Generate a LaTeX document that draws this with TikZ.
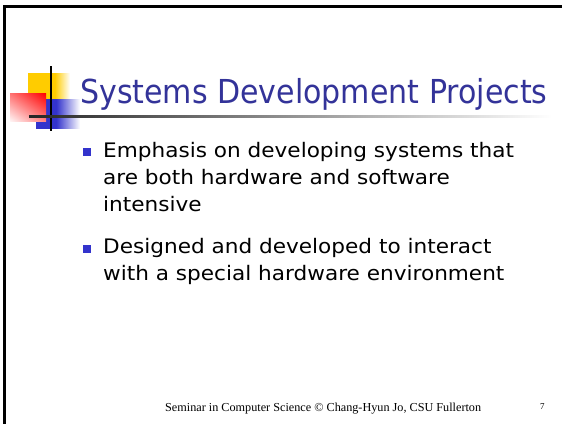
\documentclass[tikz,border=0pt]{standalone}
\usepackage{fontspec}
\usetikzlibrary{shadings}
\setmainfont{Liberation Serif}
\newfontfamily\slidetitle[FakeStretch=0.91]{DejaVu Sans}
\newfontfamily\slidebody[FakeStretch=1.08]{DejaVu Sans}
\definecolor{titleblue}{RGB}{51,51,153}
\definecolor{bulletblue}{RGB}{51,51,204}
\definecolor{decoyellow}{RGB}{255,204,0}
\definecolor{decored}{RGB}{255,0,0}
% Horizontal fades; the path box maps onto 25bp..75bp of the shading
\pgfdeclarehorizontalshading{yellowfade}{100bp}{color(0bp)=(decoyellow); color(57bp)=(decoyellow); color(75bp)=(white); color(100bp)=(white)}
\pgfdeclarehorizontalshading{bluefade}{100bp}{color(0bp)=(bulletblue); color(48bp)=(bulletblue); color(75bp)=(white); color(100bp)=(white)}
\pgfdeclarehorizontalshading{rulefade}{100bp}{color(0bp)=(black!85); color(25bp)=(black!85); color(75bp)=(white); color(100bp)=(white)}
\tikzset{
  titletext/.style={anchor=base west, inner sep=0pt, text=titleblue, font=\slidetitle\fontsize{33}{40}\selectfont},
  bodytext/.style={anchor=base west, inner sep=0pt, text=black, font=\slidebody\fontsize{20}{26}\selectfont},
  bulletmark/.style={fill=bulletblue, minimum size=8pt, inner sep=0pt, draw=none},
  foottext/.style={anchor=base west, inner sep=0pt, font=\fontsize{12.2}{14}\selectfont},
  pagenum/.style={anchor=base west, inner sep=0pt, font=\fontsize{9}{11}\selectfont},
}
\begin{document}
\begin{tikzpicture}[x=1pt, y=-1pt]
  \useasboundingbox[fill=white] (0,0) rectangle (562,424);
  % slide frame: left and top edges
  \fill[black] (3,5) rectangle (5.6,424);
  \fill[black] (3,5) rectangle (562,7.6);
  % corner ornament
  \shade[shading=yellowfade] (28,73) rectangle (70,99);
  \shade[shading=bluefade] (36,99) rectangle (80,128.3);
  \shade[upper right=decored, upper left=decored!55, lower right=decored!50, lower left=decored!4] (10,93.3) rectangle (46,121);
  \fill[black] (50,66) rectangle (52,131);
  \shade[shading=rulefade] (29,115.6) rectangle (552,117.8);
  % title
  \node[titletext] (title) at (80,103) {Systems Development Projects};
  % bullets
  \node[bulletmark] (b1) at (87,152) {};
  \node[bodytext] (l1) at (103,157.5) {Emphasis on developing systems that};
  \node[bodytext] (l2) at (103,184.5) {are both hardware and software};
  \node[bodytext] (l3) at (103,211) {intensive};
  \node[bulletmark] (b2) at (87,248.5) {};
  \node[bodytext] (l4) at (103,253.5) {Designed and developed to interact};
  \node[bodytext] (l5) at (103,280.5) {with a special hardware environment};
  % footer
  \node[foottext] (foot) at (165,411) {Seminar in Computer Science \textcopyright{} Chang-Hyun Jo, CSU Fullerton};
  \node[pagenum] (page) at (540,409) {7};
\end{tikzpicture}
\end{document}
